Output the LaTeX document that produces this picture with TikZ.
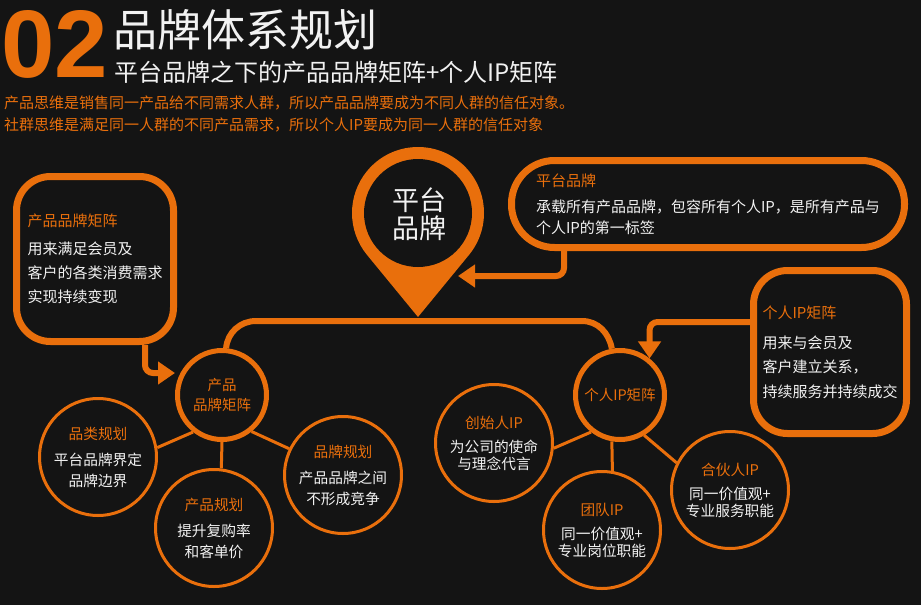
\documentclass[tikz,border=0pt]{standalone}
\usepackage{fontspec}
\newfontfamily\cjk{Noto Sans CJK SC}
\newfontfamily\numfont{Liberation Sans}
\usetikzlibrary{arrows.meta, calc}
\definecolor{bg}{HTML}{141414}
\definecolor{orng}{HTML}{E96F0C}
\definecolor{txt}{HTML}{F2F2F2}
\tikzstyle{hub}     = [circle, draw=orng, line width=5pt, fill=bg, minimum size=89pt, inner sep=0pt, align=center, text=orng, font=\cjk\fontsize{14.5}{20}\selectfont]
\tikzstyle{leaf}    = [circle, draw=orng, line width=3pt, fill=bg, minimum size=117pt, inner sep=0pt, align=center, text=txt]
\tikzstyle{callout} = [draw=orng, line width=7pt, rounded corners=34pt, fill=bg, align=left, text=txt, inner sep=0pt]
\tikzstyle{link}    = [draw=orng, line width=3pt]
\tikzstyle{bar}     = [draw=orng, line width=6pt]
\tikzstyle{feed}    = [draw=orng, line width=6pt, rounded corners=8pt, -{Triangle[width=22pt,length=17pt]}]

\begin{document}
\begin{tikzpicture}[x=1pt, y=1pt]

\fill[bg] (0,0) rectangle (921,-605);

% heading
\node[anchor=base west, inner sep=0pt, text=orng, font=\numfont\bfseries\fontsize{96}{96}\selectfont] (num) at (1,-77) {02};
\node[anchor=west, inner sep=0pt, text=txt, font=\cjk\fontsize{44}{44}\selectfont] (ttl) at (113,-30) {品牌体系规划};
\node[anchor=west, inner sep=0pt, text=txt, font=\cjk\fontsize{24}{24}\selectfont] (sub) at (114,-72) {平台品牌之下的产品品牌矩阵+个人IP矩阵};
\node[anchor=west, inner sep=0pt, text=orng, font=\cjk\fontsize{15}{15}\selectfont] (ln1) at (4,-103) {产品思维是销售同一产品给不同需求人群，所以产品品牌要成为不同人群的信任对象。};
\node[anchor=west, inner sep=0pt, text=orng, font=\cjk\fontsize{15}{15}\selectfont] (ln2) at (4,-125) {社群思维是满足同一人群的不同产品需求，所以个人IP要成为同一人群的信任对象};

% pin
\coordinate (pinc) at (418,-213);
\coordinate (tip) at (418,-317);
\fill[orng] (tip) -- ($(pinc)+(-39.4:66)$) arc[start angle=-39.4, end angle=219.4, radius=66] -- cycle;
\fill[bg] (pinc) circle[radius=54];
\node[text=txt, font=\cjk\fontsize{27}{28}\selectfont, align=center] (pf) at (419,-214) {平台\\品牌};

% callouts
\node[callout, minimum width=157pt, minimum height=165pt, font=\cjk\fontsize{15}{24}\selectfont] (boxpm) at (95,-259)
  {\textcolor{orng}{产品品牌矩阵}\\[4pt]用来满足会员及\\客户的各类消费需求\\实现持续变现};
\node[callout, minimum width=393pt, minimum height=87pt, rounded corners=43pt, font=\cjk\fontsize{15}{21}\selectfont] (boxpf) at (708,-204)
  {\textcolor{orng}{平台品牌}\\[5pt]承载所有产品品牌，包容所有个人IP，是所有产品与\\个人IP的第一标签};
\node[callout, minimum width=153pt, minimum height=163pt, font=\cjk\fontsize{15}{24.5}\selectfont] (boxip) at (830,-352)
  {\textcolor{orng}{个人IP矩阵}\\[5.5pt]用来与会员及\\客户建立关系，\\持续服务并持续成交};

% hubs
\node[hub] (pm) at (222,-395) {产品\\品牌矩阵};
\node[hub] (ipm) at (620,-395) {个人IP矩阵};

% leaves
\node[leaf, font=\cjk\fontsize{14.7}{21}\selectfont] (c1) at (98,-457) {\textcolor{orng}{品类规划}\\[5pt]平台品牌界定\\品牌边界};
\node[leaf, font=\cjk\fontsize{14.7}{21}\selectfont] (c2) at (214,-528) {\textcolor{orng}{产品规划}\\[5pt]提升复购率\\和客单价};
\node[leaf, font=\cjk\fontsize{14.7}{21}\selectfont] (c3) at (343,-475) {\textcolor{orng}{品牌规划}\\[5pt]产品品牌之间\\不形成竞争};
\node[leaf, font=\cjk\fontsize{14.7}{17}\selectfont] (c4) at (494,-443) {\textcolor{orng}{创始人IP}\\[7pt]为公司的使命\\与理念代言};
\node[leaf, font=\cjk\fontsize{14.7}{17}\selectfont] (c5) at (602,-530) {\textcolor{orng}{团队IP}\\[7pt]同一价值观+\\专业岗位职能};
\node[leaf, font=\cjk\fontsize{14.7}{17}\selectfont] (c6) at (730,-490) {\textcolor{orng}{合伙人IP}\\[7pt]同一价值观+\\专业服务职能};

% bar under the pin
\coordinate (barL) at (256,-321);
\coordinate (barR) at (582,-321);
\draw[bar] (pm.85) to[out=85,in=180] (barL) -- (barR) to[out=0,in=100] (ipm.100);

% links
\draw[link] (pm.-128) -- (c1.9);
\draw[link] (pm.-90) -- (c2.83);
\draw[link] (pm.-51) -- (c3.154);
\draw[link] (ipm.-128) -- (c4.-5);
\draw[link] (ipm.-100) -- (c5.80);
\draw[link] (ipm.-59) -- (c6.153);

% arrows from callouts
\coordinate (pinedge) at (458,-276);
\draw[feed] ([xshift=50pt]boxpm.south) |- ([yshift=22pt]pm.west);
\draw[feed] ([xshift=-144pt]boxpf.south) |- (pinedge);
\draw[feed] ([yshift=30pt]boxip.west) -| (ipm.51);

\end{tikzpicture}
\end{document}
